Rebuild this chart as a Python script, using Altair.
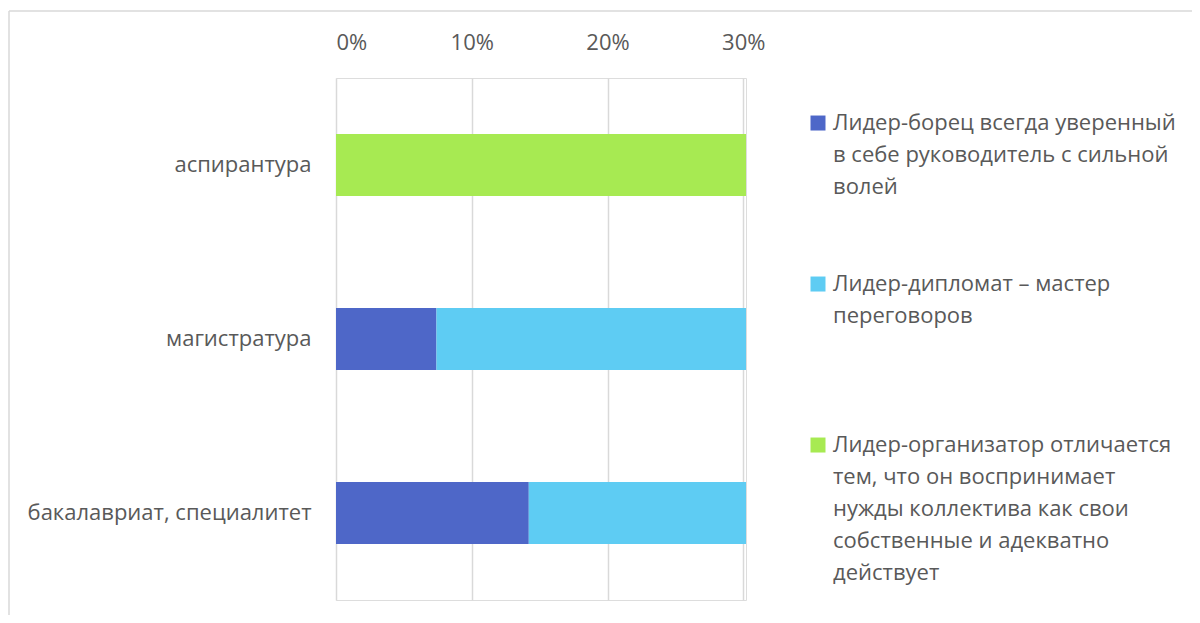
import altair as alt
import pandas as pd

categories = ["аспирантура", "магистратура", "бакалавриат, специалитет"]
series = [
    "Лидер-борец всегда уверенный\nв себе руководитель с сильной\nволей",
    "Лидер-дипломат – мастер\nпереговоров",
    "Лидер-организатор отличается\nтем, что он воспринимает\nнужды коллектива как свои\nсобственные и адекватно\nдействует",
]
colors = ["#4E67C8", "#5ECCF3", "#A7EA52"]
borets = [0.0, 7.4, 14.2]
diplomat = [0.0, 22.8, 16.0]
organizer = [30.2, 0.0, 0.0]
tick_values = [0, 0.1, 0.2, 0.3]

rows = []
for si, vals in enumerate([borets, diplomat, organizer]):
    for ci, c in enumerate(categories):
        rows.append({"cat": c, "series": series[si], "order": si, "value": vals[ci] / 100})
df = pd.DataFrame(rows)

FONT = "Open Sans"
TXT = "#595959"
GRID = "#D9D9D9"
FS = 22

bars = alt.Chart(df).mark_bar().encode(
    y=alt.Y("cat:N", sort=categories, title=None,
            scale=alt.Scale(paddingInner=0.644, paddingOuter=0.322),
            axis=alt.Axis(labelFont=FONT, labelFontSize=FS, labelColor=TXT,
                          ticks=False, domain=False, labelPadding=25, labelLimit=400)),
    x=alt.X("value:Q", stack="zero", title=None,
            scale=alt.Scale(domain=[0, 0.302], nice=False),
            axis=alt.Axis(orient="top", values=tick_values, format=".0%",
                          labelFont=FONT, labelFontSize=FS, labelColor=TXT,
                          ticks=False, domain=False, labelPadding=24,
                          grid=True, gridColor=GRID, gridWidth=1.5)),
    color=alt.Color("series:N", sort=series,
                    scale=alt.Scale(domain=series, range=colors),
                    legend=alt.Legend(
                        title=None, orient="none", legendX=471, legendY=41,
                        labelExpr="split(datum.label, '\\n')",
                        labelFont=FONT, labelFontSize=FS, labelColor=TXT,
                        labelBaseline="alphabetic", labelLimit=500, labelOffset=4,
                        symbolType="M-1,-1.93H1V0.07H-1Z", symbolSize=225,
                        symbolStrokeWidth=0, symbolOpacity=1,
                        gridAlign="all", rowPadding=11, padding=0)),
    order=alt.Order("order:Q"),
)

frame = pd.DataFrame({"k": [0]})
top_border = alt.Chart(frame).mark_rule(color=GRID, strokeWidth=1.5).encode(
    x=alt.value(-327), x2=alt.value(1000), y=alt.value(-67))
left_border = alt.Chart(frame).mark_rule(color=GRID, strokeWidth=1.5).encode(
    x=alt.value(-327), y=alt.value(-67), y2=alt.value(700))

chart = alt.layer(top_border, left_border, bars).properties(
    width=410, height=522,
    padding={"left": 328, "top": 70, "right": 446, "bottom": 15},
    autosize=alt.AutoSizeParams(type="none"),
).configure_view(stroke=None).configure(
    background="white",
    style={"guide-label": {"lineHeight": 32}},
)

chart.save("out.html", embed_options={"renderer": "svg", "actions": False})
